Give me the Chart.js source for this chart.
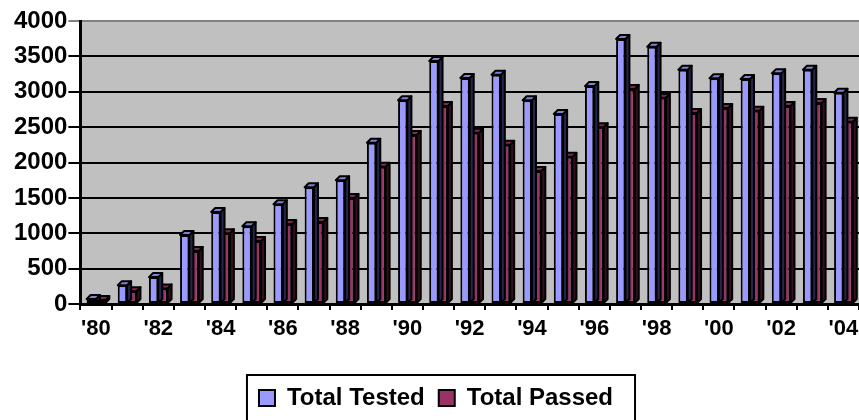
<!DOCTYPE html>
<html>
<head>
<meta charset="utf-8">
<script src="https://cdn.jsdelivr.net/npm/chart.js@4.4.1/dist/chart.umd.min.js"></script>
<style>
  html, body { margin: 0; padding: 0; background: #fff; }
  #wrap { position: relative; width: 859px; height: 420px; }
</style>
</head>
<body>
<div id="wrap"><canvas id="tests-chart"></canvas></div>
<script>
// years 1980 - 2004
const years = ["'80", "'81", "'82", "'83", "'84", "'85", "'86", "'87", "'88", "'89",
  "'90", "'91", "'92", "'93", "'94", "'95", "'96", "'97", "'98", "'99",
  "'00", "'01", "'02", "'03", "'04"];

const totalTested = [70, 265, 380, 975, 1300, 1100, 1410, 1650, 1750, 2280,
  2880, 3435, 3195, 3240, 2880, 2685, 3080, 3745, 3635, 3310,
  3190, 3180, 3260, 3310, 2985];

const totalPassed = [55, 180, 220, 750, 1000, 890, 1130, 1160, 1500, 1940,
  2390, 2800, 2420, 2250, 1880, 2080, 2500, 3040, 2915, 2700,
  2770, 2730, 2800, 2840, 2575];

const yTicks = [0, 500, 1000, 1500, 2000, 2500, 3000, 3500, 4000];

const sideColors = ["#26264d", "#33101f"];
const topColors = ["#8080d9", "#80294f"];
const FONT = "Liberation Sans, Arial, sans-serif";

// grey back wall behind the bars
const plotBackground = {
  id: "plotBackground",
  beforeDraw(chart) {
    const { ctx, chartArea } = chart;
    ctx.save();
    ctx.fillStyle = "#c0c0c0";
    ctx.fillRect(chartArea.left, chartArea.top, chartArea.right - chartArea.left, chartArea.bottom - chartArea.top);
    ctx.restore();
  }
};

// fake Excel-style 3D: side + top faces on every bar
const barDepth = {
  id: "barDepth",
  afterDatasetDraw(chart, args) {
    const { ctx } = chart;
    const i = args.index;
    const d = 4;
    ctx.save();
    ctx.lineWidth = 2;
    ctx.lineJoin = "round";
    ctx.strokeStyle = "#000";
    chart.getDatasetMeta(i).data.forEach((bar) => {
      const p = bar.getProps(["x", "y", "base", "width"], true);
      const l = p.x - p.width / 2;
      const r = p.x + p.width / 2;
      // side
      ctx.beginPath();
      ctx.moveTo(r, p.y);
      ctx.lineTo(r + d, p.y - d);
      ctx.lineTo(r + d, p.base - d);
      ctx.lineTo(r, p.base);
      ctx.closePath();
      ctx.fillStyle = sideColors[i];
      ctx.fill();
      ctx.stroke();
      // top
      ctx.beginPath();
      ctx.moveTo(l, p.y);
      ctx.lineTo(l + d, p.y - d);
      ctx.lineTo(r + d, p.y - d);
      ctx.lineTo(r, p.y);
      ctx.closePath();
      ctx.fillStyle = topColors[i];
      ctx.fill();
      ctx.stroke();
    });
    ctx.restore();
  }
};

// black frame round the legend
const legendFrame = {
  id: "legendFrame",
  afterDraw(chart) {
    const lg = chart.legend;
    if (!lg || !lg.legendHitBoxes.length) return;
    const boxes = lg.legendHitBoxes;
    const first = boxes[0];
    const last = boxes[boxes.length - 1];
    const ctx = chart.ctx;
    const x0 = first.left - 12;
    const x1 = last.left + last.width + 22;
    ctx.save();
    ctx.strokeStyle = "#000";
    ctx.lineWidth = 2;
    ctx.strokeRect(x0, first.top - 11, x1 - x0, 60);
    ctx.restore();
  }
};

const ctx = document.getElementById("tests-chart").getContext("2d");
new Chart(ctx, {
  type: "bar",
  data: {
    labels: years,
    datasets: [
      {
        label: "Total Tested",
        data: totalTested,
        backgroundColor: "#9999ff",
        borderColor: "#000",
        borderWidth: 2,
        borderSkipped: false,
        categoryPercentage: 0.6,
        barPercentage: 1.0
      },
      {
        label: "Total Passed",
        data: totalPassed,
        backgroundColor: "#993366",
        borderColor: "#000",
        borderWidth: 2,
        borderSkipped: false,
        categoryPercentage: 0.6,
        barPercentage: 1.0
      }
    ]
  },
  options: {
    responsive: true,
    maintainAspectRatio: false,
    animation: false,
    layout: { padding: { top: 21, left: 13, right: 0, bottom: 0 } },
    plugins: {
      tooltip: { enabled: false },
      legend: {
        position: "bottom",
        labels: {
          color: "#000",
          font: { family: FONT, size: 24, weight: "bold" },
          boxWidth: 16,
          boxHeight: 16,
          padding: 14,
          generateLabels(chart) {
            return chart.data.datasets.map((ds, i) => ({
              text: ds.label,
              fillStyle: ds.backgroundColor,
              strokeStyle: "#000",
              lineWidth: 2,
              datasetIndex: i
            }));
          }
        }
      }
    },
    scales: {
      x: {
        offset: true,
        afterFit(scale) {
          scale.height = 68;
          scale.paddingRight = 0;
          scale.paddingLeft = 0;
        },
        grid: {
          offset: true,
          drawOnChartArea: false,
          color: "#000",
          lineWidth: 2,
          tickLength: 6
        },
        border: { color: "#000", width: 3 },
        ticks: {
          autoSkip: false,
          maxRotation: 0,
          padding: 6,
          color: "#000",
          font: { family: FONT, size: 22, weight: "bold" },
          callback(value, index) {
            return index % 2 === 0 ? years[index] : "";
          }
        }
      },
      y: {
        min: 0,
        max: 4000,
        afterBuildTicks(axis) {
          axis.ticks = yTicks.map((v) => ({ value: v }));
        },
        grid: {
          color: (c) => (c.tick && c.tick.value === 4000 ? "#808080" : "#000"),
          lineWidth: 2,
          tickLength: 12
        },
        border: { color: "#000", width: 3 },
        ticks: {
          padding: 1,
          color: "#000",
          font: { family: FONT, size: 24, weight: "bold" },
          callback: (v) => String(v)
        }
      }
    }
  },
  plugins: [plotBackground, barDepth, legendFrame]
});
</script>
</body>
</html>
